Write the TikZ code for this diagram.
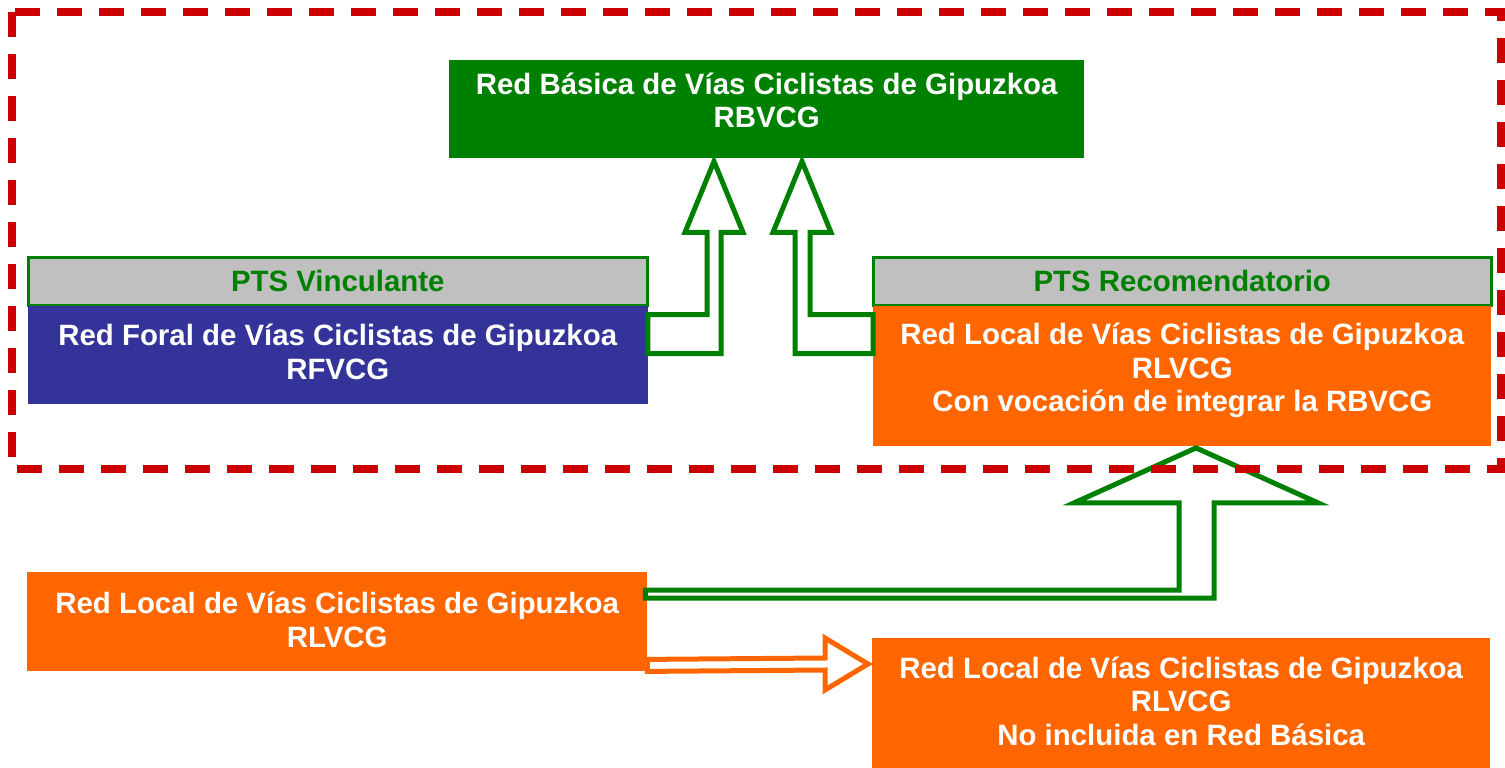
\documentclass[tikz,border=0pt]{standalone}
\usepackage{fontspec}
\setmainfont{Liberation Sans}
\usepackage{xcolor}
\usepackage{tikz}
\usetikzlibrary{calc,positioning}

\definecolor{rbgreen}{RGB}{0,128,0}
\definecolor{rfblue}{RGB}{51,51,153}
\definecolor{rlorange}{RGB}{255,102,0}
\definecolor{ptsgray}{RGB}{192,192,192}
\definecolor{framered}{RGB}{204,0,0}

\begin{document}
\begin{tikzpicture}[x=1pt,y=-1pt,
  netbox/.style={rectangle, inner sep=0pt, anchor=north west},
  boxtext/.style={text=white, align=center, inner sep=0pt,
    font=\fontsize{29.4}{33.6}\selectfont\bfseries},
  ptshead/.style={rectangle, fill=ptsgray, draw=rbgreen, line width=2.5pt,
    inner sep=0pt, minimum height=48, text=rbgreen,
    font=\fontsize{29.4}{33.6}\selectfont\bfseries},
  garrow/.style={draw=rbgreen, fill=white, line width=5pt},
  oarrow/.style={draw=rlorange, fill=white, line width=5pt},
  dashframe/.style={draw=framered, line width=8pt, dash pattern=on 25pt off 17pt}]

  \useasboundingbox (0,0) rectangle (1505,768);

  % red basica
  \node[netbox, fill=rbgreen, minimum width=635, minimum height=98,
    label={[boxtext,yshift=9]center:{Red Básica de Vías Ciclistas de Gipuzkoa\\RBVCG}}]
    (rbvcg) at (449,60) {};

  % PTS vinculante
  \node[ptshead, minimum width=619, anchor=north west] (vinc) at (27,256) {PTS Vinculante};
  \node[netbox, fill=rfblue, minimum width=620, minimum height=98, below=-1pt of vinc,
    label={[boxtext,yshift=3]center:{Red Foral de Vías Ciclistas de Gipuzkoa\\RFVCG}}]
    (foral) {};

  % PTS recomendatorio
  \node[ptshead, minimum width=618, anchor=north west] (reco) at (872,256) {PTS Recomendatorio};
  \node[netbox, fill=rlorange, minimum width=618, minimum height=140, below=-1pt of reco,
    label={[boxtext,yshift=5]center:{Red Local de Vías Ciclistas de Gipuzkoa\\RLVCG\\Con vocación de integrar la RBVCG}}]
    (rlint) {};

  % redes locales
  \node[netbox, fill=rlorange, minimum width=620, minimum height=99,
    label={[boxtext,yshift=2]center:{Red Local de Vías Ciclistas de Gipuzkoa\\RLVCG}}]
    (locb) at (27,572) {};
  \node[netbox, fill=rlorange, minimum width=618, minimum height=130,
    label={[boxtext,yshift=2]center:{Red Local de Vías Ciclistas de Gipuzkoa\\RLVCG\\No incluida en Red Básica}}]
    (nored) at (872,638) {};

  \coordinate (t1) at ($(rbvcg.south west)+(265,3)$);
  \coordinate (t2) at ($(rbvcg.south west)+(353,3)$);
  \coordinate (t3) at ($(rlint.south west)+(323,2)$);
  \coordinate (t4) at ($(nored.north west)+(-4,26)$);

  \draw[garrow] ($(foral.north east)+(0,9)$) -| ($(t1)+(-7,71)$) -- ++(-22,0) -- (t1)
    -- ++(29,71) -- ++(-22,0) |- ($(foral.north east)+(0,48)$) -- cycle;
  \draw[garrow] ($(rlint.north west)+(0,9)$) -| ($(t2)+(8,71)$) -- ++(21,0) -- (t2)
    -- ++(-29,71) -- ++(22,0) |- ($(rlint.north west)+(0,48)$) -- cycle;
  \draw[garrow] ($(locb.north east)+(-2,18)$) -| ($(t3)+(-17,55)$) -- ++(-105,0) -- (t3)
    -- ++(122,55) -- ++(-104,0) |- ($(locb.north east)+(-2,26)$) -- cycle;
  \draw[oarrow] ($(locb.south east)+(0,-12)$) -- ($(t4)+(-43,-6)$) -- ++(0,-20) -- (t4)
    -- ++(-43,26) -- ++(0,-20) -- ($(locb.south east)+(0,0)$) -- cycle;

  % marco PTS
  \draw[dashframe] (12,12) rectangle (1501,469);

\end{tikzpicture}
\end{document}
